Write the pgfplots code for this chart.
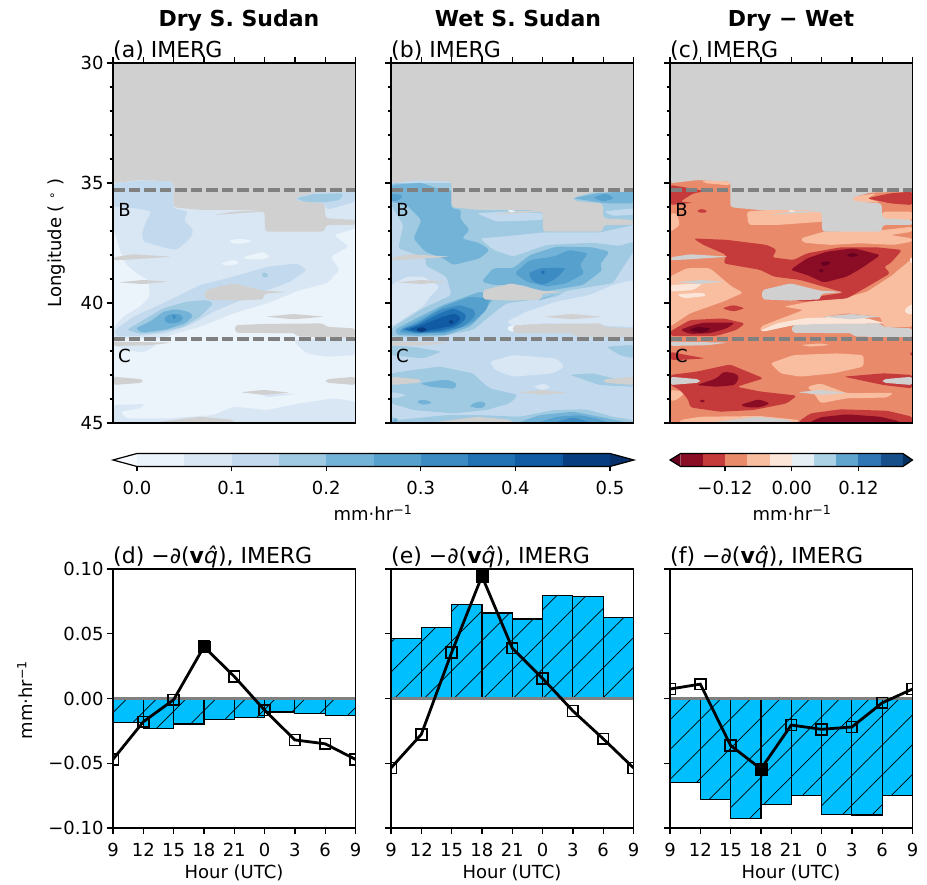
\documentclass[border=0pt]{standalone}
\usepackage{fontspec}
\setmainfont{DejaVu Sans}
\usepackage{pgfplots}
\pgfplotsset{compat=1.18}
\usetikzlibrary{patterns.meta}
\newcommand\ticks{\fontsize{18}{20}\selectfont}
\newcommand\ttl{\fontsize{22}{24}\selectfont}
\definecolor{L0}{HTML}{EBF3FB}\definecolor{L1}{HTML}{D9E7F5}\definecolor{L2}{HTML}{C3DAEE}
\definecolor{L3}{HTML}{9FCAE1}\definecolor{L4}{HTML}{74B3D8}\definecolor{L5}{HTML}{56A0CE}
\definecolor{L6}{HTML}{3C8CC3}\definecolor{L7}{HTML}{2171B5}\definecolor{L8}{HTML}{105BA4}
\definecolor{L9}{HTML}{083E81}\definecolor{Lmin}{HTML}{F7FBFF}\definecolor{Lmax}{HTML}{08306B}
\definecolor{C0}{HTML}{67001F}\definecolor{C1}{HTML}{8A0C25}\definecolor{C2}{HTML}{C53A3A}
\definecolor{C3}{HTML}{E98A6B}\definecolor{C4}{HTML}{F9BDA0}\definecolor{C5}{HTML}{FBE5D8}
\definecolor{C6}{HTML}{E6EFF4}\definecolor{C7}{HTML}{ACD2E6}\definecolor{C8}{HTML}{5FA5CD}
\definecolor{C9}{HTML}{2F78B5}\definecolor{C10}{HTML}{174F8A}\definecolor{Cmax}{HTML}{053061}
\definecolor{GZ}{HTML}{D0D0D0}\definecolor{barc}{HTML}{00BFFF}
\newcommand\zone[2]{\addplot[draw=none,fill=#1,rounded corners=3pt,forget plot] coordinates {#2} --cycle;}
\newcommand\grayzones{%
\zone{GZ}{(0,30)(8,30)(8,35.36)(6.62,35.40)(6.02,35.60)(6.02,35.74)(6.62,35.82)(6.98,35.85)(7.01,36.47)(8,36.54)(8,36.75)(7.01,36.75)(6.98,37.03)(5.02,37.03)(5.0,36.19)(3.32,36.33)(4.0,36.19)(4.97,36.12)(2.88,36.12)(1.99,36.01)(1.99,34.94)(0.89,34.88)(0,35.01)}
\zone{GZ}{(0,38.10)(0.67,37.97)(1.94,38.07)(0.67,38.18)(0,38.22)}
\zone{GZ}{(0.18,39.14)(1,39.04)(1.83,39.11)(1,39.21)}
\zone{GZ}{(3.04,39.46)(3.98,39.18)(4.42,39.32)(4.97,39.49)(5.74,39.54)(4.97,39.62)(4.97,39.85)(3.98,39.90)(3.04,39.85)}
\zone{GZ}{(5.02,40.57)(5.96,40.46)(6.98,40.57)(5.96,40.68)}
\zone{GZ}{(4.03,40.92)(5.08,40.87)(6.95,40.85)(7.01,40.99)(8,41.06)(8,41.43)(6.07,41.40)(6.02,41.26)(4.03,41.24)}
\zone{GZ}{(0,41.61)(1.94,41.65)(1.22,41.76)(0,41.79)}
\zone{GZ}{(0,43.07)(0.98,43.18)(0.98,43.32)(0,43.42)}
\zone{GZ}{(8,43.07)(7.02,43.18)(7.02,43.32)(8,43.42)}
\zone{GZ}{(4.2,43.72)(4.97,43.62)(5.85,43.74)(4.97,43.83)}
\zone{GZ}{(1.55,44.94)(2.88,44.74)(3.98,44.87)(3.98,45)(1.55,45)}
}
\newcommand\dashes{%
\addplot[color=gray,line width=3.4pt,dash pattern=on 11.5pt off 4pt,forget plot] coordinates {(0,35.3)(8,35.3)};
\addplot[color=gray,line width=3.4pt,dash pattern=on 11.5pt off 4pt,forget plot] coordinates {(0,41.5)(8,41.5)};
\node[font=\ticks] at (axis cs:0.38,36.12) {B};
\node[font=\ticks] at (axis cs:0.38,42.2) {C};
}
\pgfplotsset{
 base/.style={scale only axis,anchor=south west,axis on top,
  axis line style={line width=1.3pt},
  major tick style={black,line width=1.3pt},minor tick style={black,line width=1.2pt},
  major tick length=6pt,minor tick length=3.5pt,tick align=outside,
  tick label style={font=\ticks},xmin=0,xmax=8,xtick={0,...,8}},
 top/.style={base,width=242.5pt,height=360pt,ymin=30,ymax=45,y dir=reverse,
  ytick={30,35,40,45},minor ytick={31,32,33,34,36,37,38,39,41,42,43,44},
  xticklabels={},xtick pos=upper,ytick pos=left},
 bot/.style={base,width=242.5pt,height=259pt,ymin=-0.1,ymax=0.1,clip marker paths=true,
  ytick={-0.1,-0.05,0,0.05,0.1},xtick pos=lower,ytick pos=left,
  x tick label style={yshift=-6pt},
  xticklabels={9,12,15,18,21,0,3,6,9}},
 hbar/.style={ybar interval,draw=black,line width=1.2pt,fill=barc,
  postaction={pattern={Lines[angle=45,distance=21pt,line width=.7pt]},pattern color=black}},
 zline/.style={color=gray,line width=2.6pt},
 qline/.style={black,line width=2.8pt,mark=square,mark size=5.4pt,mark options={solid,line width=1.6pt,fill=none}},
 qfill/.style={only marks,mark=square*,mark size=5.8pt,mark options={black}},
 cbar/.style={scale only axis,anchor=south west,clip=false,height=13pt,ymin=0,ymax=1,
  axis line style={draw=none},ymajorticks=false,xtick pos=lower,tick align=outside,
  x tick label style={yshift=-6pt},
  major tick style={black,line width=1.3pt},major tick length=5pt,tick label style={font=\ticks}}
}
\begin{document}
\begin{tikzpicture}[x=1pt,y=1pt]
\path[use as bounding box] (0,0) rectangle (927,885);
% ---------- panel a
\begin{axis}[top,at={(113pt,462pt)},yticklabels={30,35,40,45}]
\zone{L0}{(0,30)(8,30)(8,45)(0,45)}
\zone{L1}{(0,35.01)(8,35.01)(8,36.89)(7.28,37.17)(7.78,37.65)(7.17,38.07)(7.48,38.62)(7.06,39.18)(6.18,39.46)(5.08,40.01)(3.98,40.43)(2.88,40.99)(1.55,41.47)(0,41.47)(0,41.06)(.34,40.57)(.89,40.15)(1.22,39.74)(1.17,39.04)(.78,38.76)(.4,38.35)(.23,37.79)(.07,37.1)(0,36.96)}
\zone{L1}{(5.96,41.54)(8,41.40)(8,42.17)(7.06,42.24)(6.40,42.10)(6.07,41.75)}
\zone{L1}{(0,41.61)(1.44,41.75)(1,42.07)(.45,41.96)(0,41.75)}
\zone{L1}{(0,44.25)(1.06,44.21)(.89,44.39)(.23,44.53)(.45,44.81)(1.77,44.81)(3.32,44.67)(3.98,44.32)(5.08,44.46)(6.18,44.18)(7.28,43.97)(8,44.11)(8,45)(0,45)}
\zone{L1}{(4.86,43.79)(6.07,43.79)(5.08,43.93)}
\zone{L0}{(3.81,37.4)(4.2,37.31)(4.64,37.42)(4.2,37.54)(3.92,37.51)}
\zone{L0}{(4.25,38.1)(4.97,37.86)(5.19,38.07)(4.97,38.18)(4.42,38.18)}
\zone{L0}{(3.52,38.37)(3.98,38.18)(4.2,38.32)(3.87,38.46)}
\zone{L2}{(0,35.01)(1,34.88)(1.99,34.94)(1.99,36.06)(2.49,36.19)(2.33,36.54)(2.66,36.96)(2.55,37.31)(2.1,37.79)(1.77,37.72)(1,37.44)(.95,37.1)(1.11,36.54)(1.28,36.19)(.78,36.06)(0,35.99)}
\zone{L2}{(6.02,35.43)(8,35.29)(8,35.78)(7.06,36.12)(6.98,35.85)(6.02,35.78)}
\zone{L2}{(.07,41.12)(.67,40.57)(1.77,39.94)(2.88,39.25)(3.98,38.9)(5.08,38.49)(6.07,38.35)(6.40,38.62)(5.85,39.11)(4.97,39.53)(3.98,40.01)(3.32,40.36)(2.55,40.92)(1.77,41.26)(.89,41.37)(.23,41.40)(.07,41.33)}
\zone{L3}{(6.02,35.64)(6.62,35.46)(7.61,35.43)(7.5,35.71)(6.95,35.81)(6.4,35.81)}
\zone{L3}{(.45,41.12)(1,40.71)(1.66,40.22)(2.44,39.94)(3.1,39.88)(3.32,40.01)(2.88,40.57)(2.33,40.99)(1.55,41.22)(.89,41.29)}
\zone{L3}{(4.88,38.83)(4.99,38.69)(5.16,38.83)(5.01,38.99)}
\zone{L4}{(.73,41.06)(1.22,40.78)(1.66,40.36)(2.05,40.26)(2.49,40.36)(2.66,40.54)(2.38,40.85)(1.77,41.1)(.97,41.24)}
\zone{L5}{(1.66,40.64)(1.88,40.46)(2.21,40.46)(2.35,40.64)(2.1,40.85)(1.77,40.85)}
\zone{L6}{(1.94,40.57)(2.02,40.47)(2.08,40.57)(2.02,40.71)}
\grayzones
\dashes
\end{axis}
% ---------- panel b
\begin{axis}[top,at={(391pt,462pt)},yticklabels={}]
\zone{L2}{(0,30)(8,30)(8,45)(0,45)}
\zone{L3}{(0,35.01)(8,35.01)(8,36.75)(6.88,37.06)(5.02,37.06)(4.03,37.19)(2.93,37.31)(3.37,37.79)(4.03,38.07)(5.13,37.58)(6.66,37.49)(7.54,37.62)(8,37.44)(8,37.86)(7.6,38.62)(7.32,39.18)(5.78,39.49)(5.46,39.74)(3.81,40.01)(3.37,40.43)(2.71,41.12)(1.61,41.40)(0,41.40)(0,41.06)(1.06,40.22)(2,39.67)(1.83,38.9)(1.12,38.42)(1.17,38.14)(.24,37.72)(.41,36.75)(0,35.92)}
\zone{L2}{(2.82,36.26)(3.81,36.19)(5.02,36.26)(5.02,36.54)(3.48,36.61)}
\zone{L2}{(7.01,36.19)(8,36.05)(8,36.33)(7.32,36.37)}
\zone{L1}{(0,39.25)(.52,38.9)(1.06,38.9)(1.61,39.32)(1.28,39.74)(1.06,40.15)(.52,40.57)(0,40.99)}
\zone{L1}{(3.81,40.78)(4.47,40.36)(5.46,39.94)(6.55,39.67)(7.32,39.25)(8,39.04)(8,41.0)(6.44,40.9)(5.07,40.85)(4.03,40.95)}
\zone{L0}{(3.81,40.99)(4.36,40.85)(4.36,41.15)(3.9,41.2)}
\zone{L1}{(3.26,42.44)(4.03,42.17)(5.46,42.31)(5.73,42.65)(5.35,42.93)(4.03,43.07)(3.42,42.79)}
\zone{L1}{(4.69,43.49)(5.02,43.35)(5.29,43.49)(5.02,43.65)}
\zone{L3}{(0,41.75)(.85,41.85)(1.67,42.03)(1.06,42.31)(0,42.17)}
\zone{L3}{(7.1,41.82)(8,41.75)(8,42.31)(7.54,42.17)}
\zone{L3}{(0,42.93)(.74,42.79)(1.61,42.65)(2.71,42.93)(2.93,43.21)(3.26,43.56)(4.19,43.83)(3.92,44.18)(3.15,44.46)(2.05,44.6)(.74,44.46)(0,44.18)}
\zone{L2}{(0,43.7)(.52,43.83)(.19,43.97)(0,43.97)}
\zone{L3}{(5.89,42.99)(6.66,42.93)(8,43.35)(8,43.49)(6.88,43.42)}
\zone{L3}{(0,44.67)(.19,44.88)(1.83,44.67)(2.93,44.67)(4.25,44.74)(5.35,44.46)(6.44,44.43)(7.32,44.74)(8,44.88)(8,45)(0,45)}
\zone{L4}{(.95,43.35)(1.83,43.18)(2.18,43.35)(2.11,43.58)(1.28,43.49)}
\zone{L4}{(.82,44.11)(1.06,44.01)(1.39,44.15)(1.06,44.26)}
\zone{L4}{(2.6,44.25)(2.93,44.08)(3.15,44.18)(3.04,44.39)(2.66,44.35)}
\zone{L4}{(4.3,44.94)(4.91,44.67)(6.0,44.53)(6.88,44.74)(7.65,44.94)(7.65,45)(4.3,45)}
\zone{L5}{(4.8,45)(5.46,44.74)(6.22,44.67)(6.99,44.88)(7.21,45)}
\zone{L6}{(5.35,45)(6,44.76)(6.66,45)}
\zone{L4}{(0,44.94)(.19,44.74)(.24,45)(0,45)}
\zone{L4}{(0,35.08)(1.01,34.99)(1.5,35.22)(2,35.29)(2,36.06)(2.33,36.12)(2.27,36.47)(2.6,36.96)(2.33,37.31)(2.93,37.51)(3.26,37.79)(2.93,38.14)(2.05,38.42)(1.72,38.14)(1.12,37.86)(.74,37.31)(1.01,36.54)(.52,35.92)(0,35.78)}
\zone{L5}{(0,35.43)(.41,35.5)(.3,35.71)(0,35.78)}
\zone{L4}{(6,35.64)(6.78,35.43)(8,35.32)(8,35.85)(7.1,35.85)}
\zone{L5}{(6.66,35.6)(7.1,35.43)(7.38,35.64)(6.99,35.78)}
\zone{L4}{(2.99,39.11)(3.37,38.55)(4.03,38.55)(4.58,38)(5.46,37.65)(6.66,37.68)(7.21,37.86)(6.88,38.42)(6.99,38.62)(6.33,39.25)(5.02,39.53)(4.36,39.25)(3.37,39.25)}
\zone{L5}{(4.08,38.76)(4.58,38.21)(5.35,38.07)(5.89,37.79)(6.5,37.93)(6.22,38.42)(6.39,38.76)(5.78,39.18)(5.13,39.32)(4.47,39.11)}
\zone{L6}{(4.52,38.76)(4.91,38.55)(5.78,38.53)(5.46,38.97)(5.02,39.25)(4.69,39.11)}
\zone{L7}{(4.91,38.72)(5.02,38.62)(5.09,38.72)(5.02,38.82)}
\zone{L4}{(.13,41.1)(.95,40.57)(1.72,40.08)(2.93,39.53)(3.48,39.67)(3.26,40.01)(2.93,40.57)(2.6,40.99)(1.83,41.33)(.85,41.37)(.19,41.33)}
\zone{L4}{(5.02,39.85)(5.46,39.62)(4.8,39.9)}
\zone{L5}{(.3,41.1)(.95,40.71)(1.72,40.15)(2.6,39.74)(3.26,39.81)(3.15,40.29)(2.66,40.85)(1.83,41.24)(.85,41.29)(.3,41.26)}
\zone{L6}{(.3,41.12)(.85,40.87)(1.61,40.29)(2.27,40.08)(2.77,40.29)(2.77,40.57)(2.38,40.99)(1.72,41.22)(.85,41.26)}
\zone{L7}{(.41,41.1)(.85,40.92)(1.61,40.43)(2.05,40.22)(2.44,40.43)(2.49,40.64)(2.16,40.99)(1.61,41.17)(.85,41.24)}
\zone{L8}{(.57,41.1)(1.01,40.92)(1.72,40.57)(2.11,40.43)(2.33,40.64)(2.11,40.92)(1.61,41.06)(1.01,41.2)}
\zone{L9}{(.79,41.1)(1.01,40.99)(1.23,41.1)(1.01,41.24)}
\zone{L9}{(1.89,40.78)(2,40.68)(2.07,40.82)(1.96,40.87)}
\grayzones
\zone{L0}{(3.81,36.12)(4.14,36.15)(3.97,36.26)}
\dashes
\end{axis}
% ---------- panel c
\begin{axis}[top,at={(670pt,462pt)},yticklabels={}]
\zone{C3}{(0,30)(8,30)(8,45)(0,45)}
\zone{C4}{(0,36.26)(.22,36.26)(.33,36.75)(.11,36.96)(0,37.03)}
\zone{C4}{(2.53,36.19)(3.86,36.06)(5.07,36.06)(5.07,36.61)(3.53,36.75)(2.59,36.75)}
\zone{C4}{(1.1,34.88)(1.98,34.94)(1.98,35.1)(1.1,35.0)}
\zone{C4}{(4.3,37.31)(5.07,37.03)(7.05,36.96)(8,36.82)(8,37.03)(7.27,37.17)(8,37.31)(8,37.44)(7.38,37.58)(6.28,37.51)(5.29,37.58)(4.41,37.49)}
\zone{C4}{(7,36.19)(8,36.19)(8,36.54)(7,36.54)}
\zone{C4}{(0,38.9)(.55,38.55)(1.32,38.55)(2.04,39.32)(2.42,39.57)(1.76,39.94)(.66,40.43)(0,40.99)}
\zone{C4}{(3.75,40.15)(4.63,39.94)(5.73,39.81)(6.5,39.53)(7.27,38.9)(8,38.14)(8,41.0)(7.05,40.99)(6.94,40.57)(5.84,40.43)(5.07,40.57)(3.53,41.05)(2.98,41.19)(2.98,40.99)(3.53,40.71)(4.41,40.29)}
\zone{C4}{(3.31,42.51)(4.08,42.17)(5.51,42.1)(6.39,42.17)(6.39,42.65)(5.4,42.93)(4.3,43.07)(3.64,42.93)}
\zone{C4}{(4.52,43.49)(4.96,43.35)(5.84,43.76)(7.38,43.74)(7.16,43.94)(5.84,43.97)(4.96,44.18)(4.79,43.83)}
\zone{C4}{(4.3,41.75)(4.96,41.68)(5.29,41.75)(4.63,41.82)}
\zone{C4}{(0,43.62)(.55,43.7)(.22,44.04)(0,44.1)}
\zone{C4}{(.33,44.88)(.99,44.74)(2.98,44.71)(4.3,44.88)(4.3,45)(.33,45)}
\zone{C4}{(6.0,35.57)(6.83,35.43)(6.5,35.64)(6.94,35.82)(6.0,35.78)}
\zone{C5}{(0,39.25)(1.1,39.18)(.77,39.46)(0,39.53)}
\zone{C5}{(.22,39.63)(1.1,39.57)(1.21,39.71)(.44,39.81)}
\zone{C5}{(2.98,41.15)(3.53,40.85)(4.41,40.64)(5.51,40.57)(6.5,40.64)(7.11,40.85)(4.08,40.92)(3.09,41.19)}
\zone{C5}{(7.71,40.29)(8,40.01)(8,40.5)(7.82,40.46)}
\zone{C5}{(7.88,38.14)(8,38.1)(8,38.42)}
\zone{C2}{(0,35.08)(.99,35.29)(1.1,35.36)(.77,35.43)(.33,35.78)(.77,35.82)(0,35.92)}
\zone{C2}{(.86,36.17)(1.05,36.06)(1.27,36.19)(1.05,36.26)}
\zone{C2}{(.77,37.31)(1.87,37.37)(3.2,37.58)(3.53,37.79)(3.36,38.1)(4.08,38.21)(4.52,37.93)(5.62,37.68)(6.83,37.68)(7.66,37.79)(7.27,38.35)(7.05,38.49)(7.27,38.76)(6.61,39.25)(5.84,39.81)(4.41,39.94)(4.08,39.88)(5.73,39.57)(5.07,39.32)(4.3,39.04)(3.42,38.9)(2.98,38.62)(1.76,38.35)(1.87,38)(1.1,37.58)}
\zone{C1}{(3.97,38.62)(4.52,38.14)(5.18,37.86)(6.06,37.72)(6.94,38)(6.39,38.49)(5.84,38.9)(5.07,39.15)(4.52,38.83)}
\zone{C0}{(4.94,38.35)(5.12,38.24)(5.34,38.32)(5.07,38.49)}
\zone{C0}{(5.79,38)(6.01,37.9)(6.26,38)(6.01,38.1)}
\zone{C0}{(4.9,38.62)(5.01,38.55)(5.09,38.67)(4.96,38.76)}
\zone{C2}{(1.71,40.22)(2.09,40.08)(2.48,40.22)(2.09,40.36)}
\zone{C2}{(0,41.19)(.66,40.71)(1.76,40.64)(2.48,40.85)(2.2,41.12)(1.54,41.37)(.77,41.37)(0,41.37)}
\zone{C1}{(.33,41.12)(.77,40.92)(1.1,40.82)(2.15,40.82)(1.87,41.06)(1.32,41.26)(.66,41.29)}
\zone{C0}{(.61,41.15)(.88,40.99)(1.38,41.06)(1.1,41.26)}
\zone{C2}{(0,42.03)(.55,42.17)(1.16,42.31)(.33,42.37)(0,42.37)}
\zone{C2}{(7.88,42.1)(8,42.03)(8,42.24)}
\zone{C2}{(0,43)(.88,42.86)(1.98,42.56)(3.09,43.14)(2.2,43.49)(2.98,43.69)(4.19,43.86)(3.86,44.18)(2.75,44.46)(1.65,44.53)(.66,44.35)(.61,44.04)(.33,43.62)(0,43.42)}
\zone{C1}{(.88,43.42)(1.54,43.14)(1.76,42.86)(2.15,42.93)(2.29,43.07)(2.15,43.42)(1.54,43.49)}
\zone{C1}{(.97,44.07)(1.08,44.01)(1.18,44.11)(1.05,44.15)}
\zone{C1}{(2.31,44.25)(2.92,44.01)(3.31,44.18)(2.98,44.35)(2.53,44.35)}
\zone{C2}{(5.73,43.07)(7.05,42.93)(8,43)(8,43.56)(7.05,43.42)}
\zone{C2}{(4.24,44.94)(4.63,44.6)(5.62,44.43)(7.16,44.49)(8,44.74)(8,45)(4.24,45)}
\zone{C1}{(4.57,45)(4.96,44.76)(5.84,44.64)(6.94,44.74)(7.6,44.94)(7.38,45)}
\zone{C2}{(6.5,35.64)(7.27,35.43)(8,35.36)(8,35.92)(7.27,35.85)}
\grayzones
\zone{C5}{(3.86,36.12)(4.19,36.15)(4.02,36.26)}
\dashes
\end{axis}
% ---------- colour bars
\begin{axis}[cbar,at={(113pt,418.5pt)},width=521pt,xmin=-0.0254,xmax=0.5254,
 xtick={0,0.1,0.2,0.3,0.4,0.5},xticklabels={0.0,0.1,0.2,0.3,0.4,0.5}]
\addplot[draw=none,fill=Lmin] coordinates {(-0.0254,.5)(0,0)(0,1)} --cycle;
\addplot[draw=none,fill=L0] coordinates {(0,0)(.05,0)(.05,1)(0,1)} --cycle;
\addplot[draw=none,fill=L1] coordinates {(.05,0)(.1,0)(.1,1)(.05,1)} --cycle;
\addplot[draw=none,fill=L2] coordinates {(.1,0)(.15,0)(.15,1)(.1,1)} --cycle;
\addplot[draw=none,fill=L3] coordinates {(.15,0)(.2,0)(.2,1)(.15,1)} --cycle;
\addplot[draw=none,fill=L4] coordinates {(.2,0)(.25,0)(.25,1)(.2,1)} --cycle;
\addplot[draw=none,fill=L5] coordinates {(.25,0)(.3,0)(.3,1)(.25,1)} --cycle;
\addplot[draw=none,fill=L6] coordinates {(.3,0)(.35,0)(.35,1)(.3,1)} --cycle;
\addplot[draw=none,fill=L7] coordinates {(.35,0)(.4,0)(.4,1)(.35,1)} --cycle;
\addplot[draw=none,fill=L8] coordinates {(.4,0)(.45,0)(.45,1)(.4,1)} --cycle;
\addplot[draw=none,fill=L9] coordinates {(.45,0)(.5,0)(.5,1)(.45,1)} --cycle;
\addplot[draw=none,fill=Lmax] coordinates {(.5,0)(.5254,.5)(.5,1)} --cycle;
\addplot[black,line width=1.2pt] coordinates {(-0.0254,.5)(0,0)(.5,0)(.5254,.5)(.5,1)(0,1)} --cycle;
\end{axis}
\begin{axis}[cbar,at={(670pt,418.5pt)},width=242.5pt,xmin=-0.2191,xmax=0.2173,
 xtick={-0.12,0,0.12},xticklabels={−0.12,0.00,0.12}]
\addplot[draw=none,fill=C0] coordinates {(-0.2191,.5)(-.2,0)(-.2,1)} --cycle;
\addplot[draw=none,fill=C1] coordinates {(-.2,0)(-.16,0)(-.16,1)(-.2,1)} --cycle;
\addplot[draw=none,fill=C2] coordinates {(-.16,0)(-.12,0)(-.12,1)(-.16,1)} --cycle;
\addplot[draw=none,fill=C3] coordinates {(-.12,0)(-.08,0)(-.08,1)(-.12,1)} --cycle;
\addplot[draw=none,fill=C4] coordinates {(-.08,0)(-.04,0)(-.04,1)(-.08,1)} --cycle;
\addplot[draw=none,fill=C5] coordinates {(-.04,0)(0,0)(0,1)(-.04,1)} --cycle;
\addplot[draw=none,fill=C6] coordinates {(0,0)(.04,0)(.04,1)(0,1)} --cycle;
\addplot[draw=none,fill=C7] coordinates {(.04,0)(.08,0)(.08,1)(.04,1)} --cycle;
\addplot[draw=none,fill=C8] coordinates {(.08,0)(.12,0)(.12,1)(.08,1)} --cycle;
\addplot[draw=none,fill=C9] coordinates {(.12,0)(.16,0)(.16,1)(.12,1)} --cycle;
\addplot[draw=none,fill=C10] coordinates {(.16,0)(.2,0)(.2,1)(.16,1)} --cycle;
\addplot[draw=none,fill=Cmax] coordinates {(.2,0)(.2173,.5)(.2,1)} --cycle;
\addplot[black,line width=1.2pt] coordinates {(-0.2191,.5)(-.2,0)(.2,0)(.2173,.5)(.2,1)(-.2,1)} --cycle;
\end{axis}
% ---------- panel d
\begin{axis}[bot,at={(113pt,57pt)},yticklabels={−0.10,−0.05,0.00,0.05,0.10}]
\addplot[hbar] coordinates {(0,-0.0184)(1,-0.023)(2,-0.0197)(3,-0.016)(4,-0.0145)(5,-0.0104)(6,-0.0114)(7,-0.0132)(8,-0.0132)};
\addplot[zline] coordinates {(0,0)(8,0)};
\addplot[qline] coordinates {(0,-0.047)(1,-0.018)(2,-0.001)(3,0.040)(4,0.017)(5,-0.009)(6,-0.032)(7,-0.035)(8,-0.047)};
\addplot[qfill] coordinates {(3,0.040)};
\end{axis}
% ---------- panel e
\begin{axis}[bot,at={(391pt,57pt)},yticklabels={}]
\addplot[hbar] coordinates {(0,0.0466)(1,0.055)(2,0.0728)(3,0.066)(4,0.0614)(5,0.0795)(6,0.0785)(7,0.0624)(8,0.0624)};
\addplot[zline] coordinates {(0,0)(8,0)};
\addplot[qline] coordinates {(0,-0.0536)(1,-0.0277)(2,0.0355)(3,0.0945)(4,0.0389)(5,0.0155)(6,-0.0096)(7,-0.0311)(8,-0.0536)};
\addplot[qfill] coordinates {(3,0.0945)};
\end{axis}
% ---------- panel f
\begin{axis}[bot,at={(670pt,57pt)},yticklabels={}]
\addplot[hbar] coordinates {(0,-0.0648)(1,-0.0777)(2,-0.0925)(3,-0.0816)(4,-0.0751)(5,-0.0896)(6,-0.0899)(7,-0.0749)(8,-0.0749)};
\addplot[zline] coordinates {(0,0)(8,0)};
\addplot[qline] coordinates {(0,0.0073)(1,0.0111)(2,-0.0363)(3,-0.0544)(4,-0.0205)(5,-0.0238)(6,-0.022)(7,-0.0034)(8,0.0073)};
\addplot[qfill] coordinates {(3,-0.0544)};
\end{axis}
% ---------- texts
\node[font=\ttl\bfseries,anchor=base] at (239,858) {Dry S. Sudan};
\node[font=\ttl\bfseries,anchor=base] at (518,858) {Wet S. Sudan};
\node[font=\ttl\bfseries,anchor=base] at (791,858) {Dry − Wet};
\node[font=\ttl,anchor=base west,inner sep=0pt] at (113,827) {(a) IMERG};
\node[font=\ttl,anchor=base west,inner sep=0pt] at (391,827) {(b) IMERG};
\node[font=\ttl,anchor=base west,inner sep=0pt] at (670,827) {(c) IMERG};
\node[font=\ttl,anchor=base west,inner sep=0pt] at (113,321) {(d) −{\itshape∂}({\bfseries v}{\itshape\^q}), IMERG};
\node[font=\ttl,anchor=base west,inner sep=0pt] at (391,321) {(e) −{\itshape∂}({\bfseries v}{\itshape\^q}), IMERG};
\node[font=\ttl,anchor=base west,inner sep=0pt] at (670,321) {(f) −{\itshape∂}({\bfseries v}{\itshape\^q}), IMERG};
\node[font=\ticks,anchor=base] at (373,364) {mm·hr\textsuperscript{−1}};
\node[font=\ticks,anchor=base] at (792,364) {mm·hr\textsuperscript{−1}};
\node[font=\ticks,anchor=base] at (234,6) {Hour (UTC)};
\node[font=\ticks,anchor=base] at (512,6) {Hour (UTC)};
\node[font=\ticks,anchor=base] at (791,6) {Hour (UTC)};
\node[font=\ticks,rotate=90] at (25,185) {mm·hr\textsuperscript{−1}};
\node[font=\ticks,rotate=90] at (57,642) {Longitude (\,\,\raisebox{.6ex}{\fontsize{12}{12}\selectfont∘}\,\,)};
\end{tikzpicture}
\end{document}
